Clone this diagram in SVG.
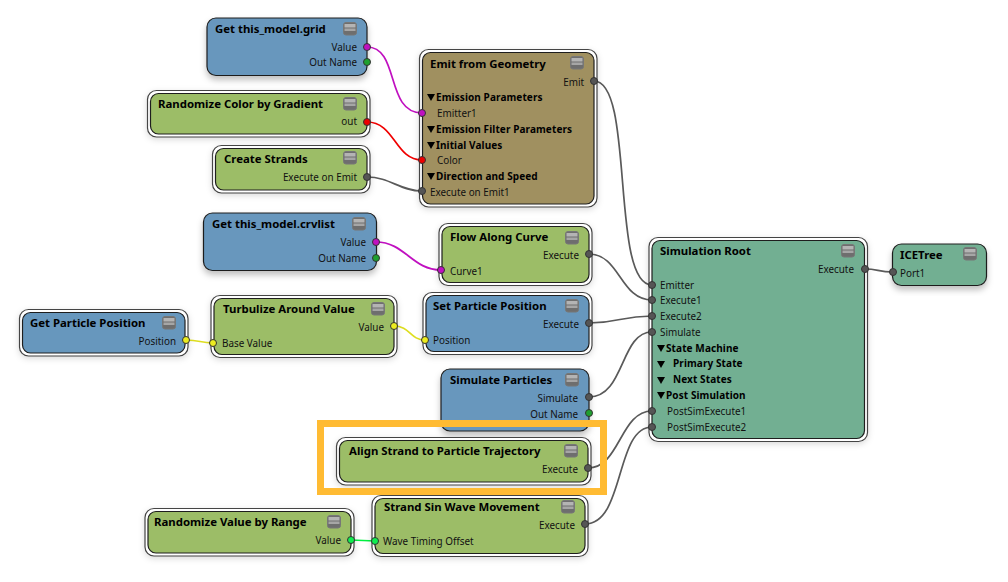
<svg xmlns="http://www.w3.org/2000/svg" width="1008" height="582" viewBox="0 0 1008 582">
<defs>
<filter id="sh" x="-10%" y="-20%" width="120%" height="145%"><feDropShadow dx="0" dy="4" stdDeviation="3" flood-color="#000" flood-opacity=".25"/></filter>
<filter id="sl" x="-10%" y="-20%" width="120%" height="145%"><feDropShadow dx="0" dy="2" stdDeviation="3" flood-color="#000" flood-opacity=".15"/></filter>
<g id="btn"><rect x=".5" y=".5" width="13" height="12.500" rx="2.500" fill="#6e6e6e" stroke="#777"/><rect x="1.500" y="2" width="11" height="3.500" fill="#b4b4b4"/><rect x="1.500" y="6.500" width="11" height="2.500" fill="#a6a6a6"/></g>
</defs>
<style>
text{font-family:"Noto Sans","DejaVu Sans",sans-serif;font-size:9.9px;fill:#111}
.t{font-weight:bold;font-size:11.4px;fill:#000}
.h{font-weight:bold;font-size:10px;fill:#000;letter-spacing:.1px}
.r{text-anchor:end}
.o{fill:#fff;stroke:#444;stroke-width:1.2}
.b{stroke:#1e1e1e;stroke-width:1.2}
.blue{fill:#6797bd}.green{fill:#9cbd67}.olive{fill:#a09060}.teal{fill:#72af92}
.c{fill:none;stroke-width:1.7}
.k{stroke:#5a5a5a}.m{stroke:#c010c0}.rd{stroke:#f00000}.y{stroke:#dede20}.g{stroke:#00f040}
.p{stroke:#333;stroke-width:1;fill:#555}
.pm{fill:#c010c0}.pr{fill:#ee0000}.py{fill:#ecec20}.pg{fill:#1fa030}.pl{fill:#10ee50}
.tri{fill:#000}
</style>

<g id="connectors">
<path class="c m" d="M367 47C400 47 385 113 422 113"/>
<path class="c rd" d="M367 122C395 122 395 160 422 160"/>
<path class="c k" d="M367 177C390 177 400 191 422 191"/>
<path class="c k" d="M594 81C635 81 610 285 652 285"/>
<path class="c m" d="M376 242C405 242 412 270 441 270"/>
<path class="c k" d="M589 254C620 254 620 300 652 300"/>
<path class="c k" d="M589 323C620 323 620 316 652 316"/>
<path class="c k" d="M589 397C625 397 620 332 652 332"/>
<path class="c k" d="M588 468C620 468 620 411 652 411"/>
<path class="c k" d="M585 524C625 524 615 427 652 427"/>
<path class="c k" d="M865 269C878 269 878 272 893 272"/>
<path class="c y" d="M186 340C200 340 200 343 213 343"/>
<path class="c y" d="M394 326C410 326 410 340 425 340"/>
<path class="c g" d="M351 540L375 541"/>
</g>

<g id="node-grid"><rect class="blue b" x="207" y="18" width="160" height="57.500" rx="9" filter="url(#sh)"/><text class="t" x="215" y="33">Get this_model.grid</text><use href="#btn" x="343" y="22"/><text class="r" x="357" y="51">Value</text><text class="r" x="357" y="66">Out Name</text><circle class="p pm" cx="367" cy="47" r="3.500"/><circle class="p pg" cx="367" cy="62" r="3.500"/></g>

<g id="node-color"><rect class="o" x="147.500" y="90.500" width="222.500" height="46.500" rx="9" filter="url(#sl)"/><rect class="green b" x="150.500" y="93.500" width="216.500" height="40.500" rx="8"/><text class="t" x="158" y="107.500">Randomize Color by Gradient</text><use href="#btn" x="343" y="97"/><text class="r" x="357" y="125">out</text><circle class="p pr" cx="367" cy="122" r="3.500"/></g>

<g id="node-strands"><rect class="o" x="212.500" y="145.500" width="157.500" height="47.500" rx="9" filter="url(#sl)"/><rect class="green b" x="215.500" y="148.500" width="151.500" height="41.500" rx="8"/><text class="t" x="224" y="162.500">Create Strands</text><use href="#btn" x="343" y="151"/><text class="r" x="357" y="180.500">Execute on Emit</text><circle class="p" cx="367" cy="177" r="3.500"/></g>

<g id="node-emit"><rect class="o" x="419.500" y="49.500" width="177.500" height="157.500" rx="9" filter="url(#sl)"/><rect class="olive b" x="422.500" y="52.500" width="171.500" height="151.500" rx="8"/><text class="t" x="430" y="67.500">Emit from Geometry</text><use href="#btn" x="570" y="56"/><text class="r" x="584" y="85.500">Emit</text><circle class="p" cx="594" cy="81" r="3.500"/>
<path class="tri" d="M427 94h8l-4 7z"/><text class="h" x="436" y="100.500">Emission Parameters</text><text x="437" y="116.500">Emitter1</text>
<path class="tri" d="M427 126h8l-4 7z"/><text class="h" x="436" y="132.500">Emission Filter Parameters</text>
<path class="tri" d="M427 142h8l-4 7z"/><text class="h" x="436" y="148.500">Initial Values</text><text x="437" y="163.500">Color</text>
<path class="tri" d="M427 173h8l-4 7z"/><text class="h" x="436" y="179.500">Direction and Speed</text><text x="430" y="195.500">Execute on Emit1</text>
<circle class="p pm" cx="422" cy="113" r="3.500"/><circle class="p pr" cx="422" cy="160" r="3.500"/><circle class="p" cx="422" cy="191" r="3.500"/></g>

<g id="node-crvlist"><rect class="blue b" x="203.500" y="213" width="173" height="57.500" rx="9" filter="url(#sh)"/><text class="t" x="212" y="227.500">Get this_model.crvlist</text><use href="#btn" x="352" y="217"/><text class="r" x="366" y="245.500">Value</text><text class="r" x="366" y="261.500">Out Name</text><circle class="p pm" cx="376" cy="242" r="3.500"/><circle class="p pg" cx="376" cy="258" r="3.500"/></g>

<g id="node-flow"><rect class="o" x="439" y="223.500" width="153" height="62" rx="9" filter="url(#sl)"/><rect class="green b" x="442" y="226.500" width="147" height="56" rx="8"/><text class="t" x="450" y="240.500">Flow Along Curve</text><use href="#btn" x="565" y="231"/><text class="r" x="579" y="258.500">Execute</text><text x="450" y="274.500">Curve1</text><circle class="p" cx="589" cy="254" r="3.500"/><circle class="p pm" cx="441" cy="270" r="3.500"/></g>

<g id="node-setpos"><rect class="o" x="423" y="292.500" width="169" height="62" rx="9" filter="url(#sl)"/><rect class="blue b" x="426" y="295.500" width="163" height="56" rx="8"/><text class="t" x="433" y="309.500">Set Particle Position</text><use href="#btn" x="565" y="299"/><text class="r" x="579" y="327.500">Execute</text><text x="433" y="343.500">Position</text><circle class="p" cx="589" cy="323" r="3.500"/><circle class="p py" cx="425" cy="340" r="3.500"/></g>

<g id="node-turb"><rect class="o" x="211" y="295.500" width="186" height="62" rx="9" filter="url(#sl)"/><rect class="green b" x="214" y="298.500" width="180" height="56" rx="8"/><text class="t" x="223" y="312.500">Turbulize Around Value</text><use href="#btn" x="371" y="302"/><text class="r" x="384" y="330.500">Value</text><text x="222" y="346.500">Base Value</text><circle class="p py" cx="394" cy="326" r="3.500"/><circle class="p py" cx="213" cy="343" r="3.500"/></g>

<g id="node-getpos"><rect class="o" x="19.500" y="309.500" width="168.500" height="46.500" rx="9" filter="url(#sl)"/><rect class="blue b" x="22.500" y="312.500" width="162.500" height="40.500" rx="8"/><text class="t" x="30" y="326.500">Get Particle Position</text><use href="#btn" x="162" y="316"/><text class="r" x="176" y="344.500">Position</text><circle class="p py" cx="186" cy="340" r="3.500"/></g>

<g id="node-simulate"><rect class="blue b" x="441" y="369" width="148" height="62" rx="9" filter="url(#sh)"/><text class="t" x="450" y="383.500">Simulate Particles</text><use href="#btn" x="565" y="373"/><text class="r" x="578" y="401.500">Simulate</text><text class="r" x="578" y="417.500">Out Name</text><circle class="p" cx="589" cy="397" r="3.500"/><circle class="p pg" cx="589" cy="413" r="3.500"/></g>

<g id="node-align"><rect class="o" x="336.500" y="437.500" width="254.500" height="47.500" rx="9" filter="url(#sl)"/><rect class="green b" x="339.500" y="440.500" width="248.500" height="41.500" rx="8"/><text class="t" x="349" y="454.500">Align Strand to Particle Trajectory</text><use href="#btn" x="564" y="444"/><text class="r" x="578" y="472.500">Execute</text><circle class="p" cx="588" cy="468" r="3.500"/></g>

<g id="node-wave"><rect class="o" x="372" y="495.500" width="216" height="61" rx="9" filter="url(#sl)"/><rect class="green b" x="375" y="498.500" width="210" height="55" rx="8"/><text class="t" x="384" y="510.500">Strand Sin Wave Movement</text><use href="#btn" x="561" y="500"/><text class="r" x="575" y="528.500">Execute</text><text x="383" y="544.500">Wave Timing Offset</text><circle class="p" cx="585" cy="524" r="3.500"/><circle class="p pl" cx="375" cy="541" r="3.500"/></g>

<g id="node-range"><rect class="o" x="145" y="508.500" width="209" height="47.500" rx="9" filter="url(#sl)"/><rect class="green b" x="148" y="511.500" width="203" height="41.500" rx="8"/><text class="t" x="154" y="525.500">Randomize Value by Range</text><use href="#btn" x="327" y="515"/><text class="r" x="341" y="543.500">Value</text><circle class="p pl" cx="351" cy="540" r="3.500"/></g>

<g id="node-root"><rect class="o" x="649" y="237.500" width="218.500" height="204" rx="9" filter="url(#sl)"/><rect class="teal b" x="652" y="240.500" width="212.500" height="198" rx="8"/><text class="t" x="660" y="254.500">Simulation Root</text><use href="#btn" x="841" y="244"/><text class="r" x="854" y="272.500">Execute</text><circle class="p" cx="865" cy="269" r="3.500"/>
<text x="660" y="288.500">Emitter</text><text x="660" y="303.500">Execute1</text><text x="660" y="319.500">Execute2</text><text x="660" y="335.500">Simulate</text>
<path class="tri" d="M657 345h8l-4 7z"/><text class="h" x="666" y="351.500">State Machine</text>
<path class="tri" d="M657 361h8l-4 7z"/><text class="h" x="673" y="366.500">Primary State</text>
<path class="tri" d="M657 377h8l-4 7z"/><text class="h" x="673" y="382.500">Next States</text>
<path class="tri" d="M657 392h8l-4 7z"/><text class="h" x="666" y="398.500">Post Simulation</text>
<text x="667" y="414.500">PostSimExecute1</text><text x="667" y="430.500">PostSimExecute2</text>
<circle class="p" cx="652" cy="285" r="3.500"/><circle class="p" cx="652" cy="300" r="3.500"/><circle class="p" cx="652" cy="316" r="3.500"/><circle class="p" cx="652" cy="332" r="3.500"/><circle class="p" cx="652" cy="411" r="3.500"/><circle class="p" cx="652" cy="427" r="3.500"/></g>

<g id="node-icetree"><rect class="teal b" x="892.500" y="244" width="94" height="41.500" rx="9" filter="url(#sh)"/><text class="t" x="900" y="258.500">ICETree</text><use href="#btn" x="963" y="247"/><text x="900" y="276.500">Port1</text><circle class="p" cx="893" cy="272" r="3.500"/></g>

<rect id="highlight" x="320.500" y="423.500" width="283" height="68" fill="none" stroke="#ffbb33" stroke-width="7"/>
</svg>
